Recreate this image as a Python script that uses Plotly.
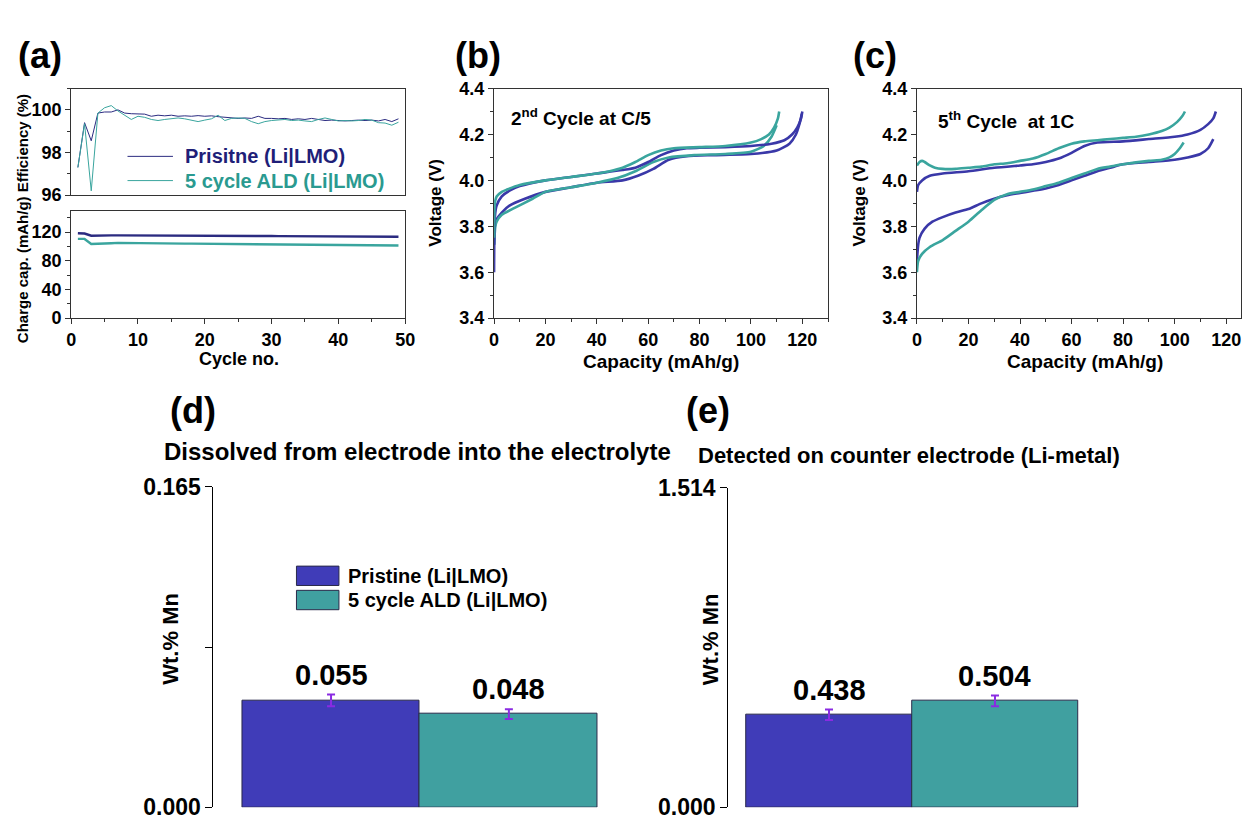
import plotly.graph_objects as go

W, H = 1251, 830
FONT = "Liberation Sans, Arial, sans-serif"
NAVY = "#2b2b80"
BLUE = "#3a38a8"
TEAL = "#3aa59e"
BAR_BLUE = "#403cb8"
BAR_TEAL = "#40a0a0"
ERR = "#8a2be2"

# ---------------- data ----------------
cycles = list(range(1, 50))
eff_pristine = [97.3, 99.4, 98.55, 99.85, 99.9, 99.9, 100.0, 99.85, 99.82, 99.8,
                99.8, 99.7, 99.75, 99.72, 99.75, 99.7, 99.72, 99.7, 99.73, 99.7,
                99.72, 99.68, 99.65, 99.62, 99.6, 99.62, 99.6, 99.7, 99.6, 99.6,
                99.58, 99.6, 99.55, 99.58, 99.55, 99.6, 99.55, 99.5, 99.52, 99.5,
                99.48, 99.5, 99.52, 99.5, 99.52, 99.48, 99.55, 99.45, 99.58]
eff_ald = [97.3, 99.35, 96.2, 99.85, 100.1, 100.2, 99.95, 99.75, 99.55, 99.7,
           99.65, 99.55, 99.5, 99.55, 99.6, 99.62, 99.58, 99.5, 99.45, 99.52,
           99.58, 99.75, 99.5, 99.6, 99.62, 99.6, 99.45, 99.35, 99.45, 99.5,
           99.52, 99.55, 99.5, 99.52, 99.48, 99.45, 99.55, 99.62, 99.55, 99.48,
           99.5, 99.48, 99.5, 99.55, 99.52, 99.4, 99.38, 99.28, 99.42]
cap_pristine = [118.5, 118, 115, 115.5, 115.5, 115.5, 115.5, 115.5, 115.5, 115.5,
                115.3, 115.3, 115.2, 115.2, 115.1, 115, 115, 115, 115, 114.9,
                114.9, 114.8, 114.8, 114.8, 114.7, 114.7, 114.6, 114.6, 114.5, 114.5,
                114.4, 114.4, 114.3, 114.3, 114.2, 114.2, 114.1, 114.1, 114, 114,
                113.9, 113.9, 113.8, 113.8, 113.7, 113.7, 113.6, 113.6, 113.5]
cap_ald = [110.5, 110.5, 103.5, 103.5, 104, 104.5, 105, 105, 105, 105,
           105, 104.8, 104.6, 104.5, 104.3, 104.1, 104, 103.9, 103.8, 103.7,
           103.6, 103.5, 103.5, 103.4, 103.4, 103.3, 103.2, 103.1, 103, 102.8,
           102.6, 102.5, 102.4, 102.3, 102.3, 102.2, 102.2, 102.1, 102.1, 102,
           102, 101.9, 101.9, 101.8, 101.8, 101.7, 101.6, 101.5, 101.3]

# (b) 2nd cycle at C/5
b_pri_up_x = [0, 0.3, 1, 3, 6, 10, 20, 30, 40, 50, 55, 60, 65, 70, 75, 80, 90, 100, 108, 113, 116, 118, 119.5, 120]
b_pri_up_v = [3.6, 3.84, 3.89, 3.93, 3.955, 3.975, 4.0, 4.015, 4.03, 4.045, 4.055, 4.08, 4.11, 4.13, 4.14, 4.142, 4.145, 4.15, 4.16, 4.175, 4.2, 4.23, 4.27, 4.3]
b_pri_lo_x = [0, 0.3, 1, 3, 6, 12, 20, 30, 40, 50, 56, 62, 68, 75, 85, 100, 110, 115, 117.5, 119, 119.8]
b_pri_lo_v = [3.72, 3.8, 3.83, 3.86, 3.89, 3.92, 3.95, 3.97, 3.99, 4.0, 4.02, 4.05, 4.09, 4.105, 4.11, 4.115, 4.13, 4.16, 4.2, 4.25, 4.29]
b_ald_up_x = [0, 0.3, 1, 3, 5, 10, 20, 30, 40, 45, 50, 55, 60, 65, 70, 80, 90, 100, 104, 107, 109, 110.5, 111]
b_ald_up_v = [3.75, 3.9, 3.93, 3.95, 3.96, 3.98, 4.0, 4.015, 4.03, 4.04, 4.055, 4.08, 4.11, 4.13, 4.14, 4.145, 4.15, 4.165, 4.18, 4.2, 4.23, 4.27, 4.3]
b_ald_lo_x = [0, 0.5, 1, 3, 8, 15, 20, 30, 40, 48, 55, 62, 68, 78, 90, 100, 105, 108, 110]
b_ald_lo_v = [3.72, 3.8, 3.82, 3.85, 3.88, 3.92, 3.95, 3.97, 3.99, 4.01, 4.04, 4.08, 4.1, 4.11, 4.115, 4.125, 4.15, 4.19, 4.24]

# (c) 5th cycle at 1C
c_pri_up_x = [0, 0.5, 2, 5, 10, 20, 30, 40, 45, 50, 55, 60, 65, 70, 80, 90, 100, 105, 110, 113, 115, 116]
c_pri_up_v = [3.95, 3.98, 4.0, 4.02, 4.03, 4.04, 4.055, 4.065, 4.07, 4.08, 4.095, 4.12, 4.15, 4.165, 4.17, 4.18, 4.19, 4.2, 4.22, 4.245, 4.27, 4.3]
c_pri_lo_x = [0, 0.5, 1, 3, 6, 10, 15, 20, 25, 30, 35, 40, 45, 50, 55, 60, 65, 70, 75, 80, 90, 100, 105, 110, 113, 115]
c_pri_lo_v = [3.65, 3.72, 3.75, 3.79, 3.82, 3.84, 3.86, 3.875, 3.9, 3.92, 3.935, 3.945, 3.955, 3.965, 3.98, 4.0, 4.02, 4.04, 4.055, 4.07, 4.08, 4.09, 4.1, 4.115, 4.14, 4.18]
c_ald_up_x = [0, 1, 2, 3, 5, 7, 10, 15, 20, 25, 30, 35, 40, 45, 50, 55, 60, 65, 70, 75, 80, 85, 90, 95, 98, 101, 103, 104]
c_ald_up_v = [4.065, 4.08, 4.085, 4.08, 4.065, 4.055, 4.05, 4.05, 4.055, 4.06, 4.07, 4.075, 4.085, 4.095, 4.115, 4.14, 4.16, 4.17, 4.175, 4.18, 4.185, 4.19, 4.2, 4.215, 4.23, 4.255, 4.28, 4.3]
c_ald_lo_x = [0, 0.5, 2, 5, 10, 15, 20, 25, 30, 35, 40, 45, 50, 55, 60, 65, 70, 75, 80, 90, 95, 98, 100, 102, 103.5]
c_ald_lo_v = [3.6, 3.65, 3.68, 3.71, 3.74, 3.78, 3.82, 3.87, 3.915, 3.94, 3.95, 3.96, 3.975, 3.99, 4.01, 4.03, 4.05, 4.06, 4.07, 4.085, 4.09, 4.1, 4.115, 4.14, 4.165]

# (d), (e) bars
samples = ["Pristine (Li|LMO)", "5 cycle ALD (Li|LMO)"]
dissolved = [0.055, 0.048]
dissolved_err = [0.003, 0.0025]
detected = [0.438, 0.504]
detected_err = [0.025, 0.025]


# ---------------- helpers ----------------
def px(x):
    return x / W


def py(y):
    return 1 - y / H


fig = go.Figure()

# (a) efficiency
fig.add_trace(go.Scatter(x=cycles, y=eff_pristine, mode="lines", line=dict(color=NAVY, width=1),
                         name="Prisitne (Li|LMO)", xaxis="x", yaxis="y", showlegend=False))
fig.add_trace(go.Scatter(x=cycles, y=eff_ald, mode="lines", line=dict(color=TEAL, width=1),
                         name="5 cycle ALD (Li|LMO)", xaxis="x", yaxis="y", showlegend=False))
# (a) charge capacity
fig.add_trace(go.Scatter(x=cycles, y=cap_pristine, mode="lines", line=dict(color=NAVY, width=2.4),
                         name="Prisitne (Li|LMO)", xaxis="x2", yaxis="y2", showlegend=False))
fig.add_trace(go.Scatter(x=cycles, y=cap_ald, mode="lines", line=dict(color=TEAL, width=2.4),
                         name="5 cycle ALD (Li|LMO)", xaxis="x2", yaxis="y2", showlegend=False))

# (b)
for xs, vs, col in [(b_pri_lo_x, b_pri_lo_v, BLUE), (b_ald_lo_x, b_ald_lo_v, TEAL),
                    (b_pri_up_x, b_pri_up_v, BLUE), (b_ald_up_x, b_ald_up_v, TEAL)]:
    fig.add_trace(go.Scatter(x=xs, y=vs, mode="lines", line=dict(color=col, width=2.6, shape="spline", smoothing=0.6),
                             xaxis="x3", yaxis="y3", showlegend=False))
# (c)
for xs, vs, col in [(c_pri_lo_x, c_pri_lo_v, BLUE), (c_ald_lo_x, c_ald_lo_v, TEAL),
                    (c_pri_up_x, c_pri_up_v, BLUE), (c_ald_up_x, c_ald_up_v, TEAL)]:
    fig.add_trace(go.Scatter(x=xs, y=vs, mode="lines", line=dict(color=col, width=2.6, shape="spline", smoothing=0.6),
                             xaxis="x4", yaxis="y4", showlegend=False))

# (d) and (e) bars
bar_cols = [BAR_BLUE, BAR_TEAL]
for i in range(2):
    fig.add_trace(go.Bar(x=[i], y=[dissolved[i]], width=1, name=samples[i],
                         marker=dict(color=bar_cols[i], line=dict(color="#2a2a4a", width=1)),
                         error_y=dict(type="data", array=[dissolved_err[i]], color=ERR, thickness=2, width=4),
                         xaxis="x5", yaxis="y5", showlegend=False))
    fig.add_trace(go.Bar(x=[i], y=[detected[i]], width=1, name=samples[i],
                         marker=dict(color=bar_cols[i], line=dict(color="#2a2a4a", width=1)),
                         error_y=dict(type="data", array=[detected_err[i]], color=ERR, thickness=2, width=4),
                         xaxis="x6", yaxis="y6", showlegend=False))


def frame(size):
    return dict(showline=True, linecolor="#333", linewidth=1.2, mirror=True, showgrid=False, zeroline=False,
                ticks="outside", ticklen=5, tickcolor="#333",
                tickfont=dict(family=FONT, size=size, color="black", weight="bold"))


MINOR = dict(ticklen=3, ticks="outside", tickcolor="#333")
ax_a_x = [px(67), px(405)]
fig.update_layout(
    width=W, height=H, margin=dict(l=0, r=0, t=0, b=0),
    paper_bgcolor="white", plot_bgcolor="white",
    font=dict(family=FONT, color="black"),
    barmode="overlay", bargap=0,
    xaxis=dict(domain=ax_a_x, range=[0, 50], anchor="y", showticklabels=False, **{**frame(18), "ticks": ""}),
    yaxis=dict(domain=[py(188), py(78)], range=[96, 101], anchor="x", tickvals=[96, 98, 100],
               minor=dict(dtick=1, **MINOR), **frame(18)),
    xaxis2=dict(domain=ax_a_x, range=[0, 50], anchor="y2", dtick=10,
                minor=dict(dtick=5, **MINOR), **frame(18)),
    yaxis2=dict(domain=[py(315), py(204)], range=[0, 150], anchor="x2", tickvals=[0, 40, 80, 120],
                minor=dict(dtick=20, **MINOR), **frame(18)),
    xaxis3=dict(domain=[px(495), px(833)], range=[0, 130], anchor="y3", dtick=20,
                minor=dict(dtick=10, **MINOR), **frame(18)),
    yaxis3=dict(domain=[py(315), py(78)], range=[3.4, 4.4], anchor="x3", dtick=0.2, tickformat=".1f",
                minor=dict(dtick=0.1, **MINOR), **frame(18)),
    xaxis4=dict(domain=[px(923), 1.0], range=[0, 125.75], anchor="y4", dtick=20,
                minor=dict(dtick=10, **MINOR), **frame(18)),
    yaxis4=dict(domain=[py(315), py(78)], range=[3.4, 4.4], anchor="x4", dtick=0.2, tickformat=".1f",
                minor=dict(dtick=0.1, **MINOR), **frame(18)),
    xaxis5=dict(domain=[px(211), px(640)], range=[-0.5 - 29 / 180, 1.5 + 40 / 180], anchor="y5", visible=False),
    yaxis5=dict(domain=[py(820), py(489)], range=[0, 0.165], anchor="x5",
                tickvals=[0, 0.165], ticktext=["0.000", "0.165"],
                minor=dict(tickvals=[0.0825], ticks="outside", ticklen=7, tickcolor="black"),
                showline=True, linecolor="black", linewidth=1, showgrid=False, zeroline=False,
                ticks="outside", ticklen=7, tickcolor="black",
                tickfont=dict(family=FONT, size=23, color="black", weight="bold")),
    xaxis6=dict(domain=[px(732), px(1150)], range=[-0.5 - 18 / 168, 1.5 + 64 / 168], anchor="y6", visible=False),
    yaxis6=dict(domain=[py(820), py(490)], range=[0, 1.514], anchor="x6",
                tickvals=[0, 1.514], ticktext=["0.000", "1.514"],
                showline=True, linecolor="black", linewidth=1, showgrid=False, zeroline=False,
                ticks="outside", ticklen=7, tickcolor="black",
                tickfont=dict(family=FONT, size=23, color="black", weight="bold")),
)

ann = []


def text(x, y, s, size, angle=0, xanchor="center", color="black"):
    ann.append(dict(x=px(x), y=py(y), xref="paper", yref="paper", text=s, showarrow=False,
                    xanchor=xanchor, yanchor="middle", textangle=angle,
                    font=dict(family=FONT, size=size, color=color, weight="bold")))


# panel labels
text(35, 44, "(a)", 36)
text(479, 44, "(b)", 36)
text(881, 44, "(c)", 36)
text(190, 410, "(d)", 36)
text(712, 410, "(e)", 36)
# axis titles
text(18, 212, "Charge cap. (mAh/g) Efficiency (%)", 15, angle=-90)
text(237, 357, "Cycle no.", 18)
text(436, 196, "Voltage (V)", 17, angle=-90)
text(664, 360, "Capacity (mAh/g)", 19)
text(865, 196, "Voltage (V)", 17, angle=-90)
text(1093, 360, "Capacity (mAh/g)", 19)
text(168, 646, "Wt.% Mn", 22, angle=-90)
text(714, 646, "Wt.% Mn", 22, angle=-90)
# inner labels
text(510, 107, "2<sup>nd</sup> Cycle at C/5", 19, xanchor="left")
text(942, 110, "5<sup>th</sup> Cycle  at 1C", 19, xanchor="left")
# bar chart titles
text(417, 453, "Dissolved from electrode into the electrolyte", 24)
text(915, 457, "Detected on counter electrode (Li-metal)", 22)
# legend (a)
text(180, 148, "Prisitne (Li|LMO)", 20, xanchor="left", color="#1f1f78")
text(180, 173, "5 cycle ALD (Li|LMO)", 20, xanchor="left", color="#2a9a90")
# legend (d)
text(345, 581, samples[0], 20, xanchor="left")
text(345, 606, samples[1], 20, xanchor="left")

# bar value labels
for i in range(2):
    ann.append(dict(x=i, y=dissolved[i] + dissolved_err[i], xref="x5", yref="y5", text=f"{dissolved[i]:.3f}",
                    showarrow=False, yanchor="bottom", yshift=2,
                    font=dict(family=FONT, size=29, color="black", weight="bold")))
    ann.append(dict(x=i, y=detected[i] + detected_err[i], xref="x6", yref="y6", text=f"{detected[i]:.3f}",
                    showarrow=False, yanchor="bottom", yshift=2,
                    font=dict(family=FONT, size=29, color="black", weight="bold")))

shapes = [
    dict(type="line", xref="paper", yref="paper", x0=px(124), x1=px(170), y0=py(148), y1=py(148),
         line=dict(color=NAVY, width=1)),
    dict(type="line", xref="paper", yref="paper", x0=px(124), x1=px(170), y0=py(173), y1=py(173),
         line=dict(color=TEAL, width=1)),
    dict(type="rect", xref="paper", yref="paper", x0=px(295), x1=px(338), y0=py(591), y1=py(571),
         fillcolor=BAR_BLUE, line=dict(color="#2a2a4a", width=1)),
    dict(type="rect", xref="paper", yref="paper", x0=px(295), x1=px(338), y0=py(616), y1=py(596),
         fillcolor=BAR_TEAL, line=dict(color="#2a2a4a", width=1)),
]

fig.update_layout(annotations=ann, shapes=shapes)
fig.write_html("out.html", post_script="document.body.style.margin='0px';",
               config={"displayModeBar": False})
